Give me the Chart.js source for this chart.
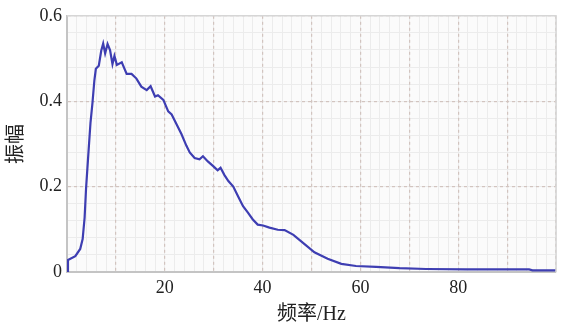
<!DOCTYPE html>
<html>
<head>
<meta charset="utf-8">
<script src="https://cdn.jsdelivr.net/npm/chart.js@4.4.1/dist/chart.umd.min.js"></script>
<style>
  html, body { margin: 0; padding: 0; background: #fff; }
  #wrap { width: 561px; height: 323px; position: relative; }
</style>
</head>
<body>
<div id="wrap"><canvas id="miGrafica"></canvas></div>
<script>
// frecuencia (Hz) y amplitud
const freq = [0, 0.2, 1.7, 2.7, 3.2, 3.6, 3.9, 4.3, 4.8, 5.2, 5.6, 5.9, 6.5, 7.0, 7.4, 7.8, 8.3, 8.8, 9.3, 9.7,
  10.2, 11.2, 12.2, 13.2, 14.2, 15.2, 16.3, 17.1, 18.0, 18.6, 19.7, 20.7, 21.4, 22.4, 23.4, 24.4, 25.1,
  26.1, 27.1, 27.8, 28.8, 29.9, 30.8, 31.4, 32.2, 33.0, 34.0, 35.0, 36.0, 37.0, 38.0, 39.0, 40.1, 41.4,
  43.1, 44.5, 46.3, 48.7, 50.6, 53.3, 56.1, 59.1, 63.2, 68.0, 73.4, 81.6, 94.5, 95.2, 100];
const amp = [0, 0.028, 0.037, 0.054, 0.077, 0.127, 0.196, 0.265, 0.349, 0.395, 0.449, 0.476, 0.483, 0.518, 0.535, 0.512, 0.534, 0.52, 0.487, 0.506,
  0.485, 0.491, 0.464, 0.464, 0.453, 0.434, 0.426, 0.435, 0.411, 0.414, 0.403, 0.376, 0.369, 0.346, 0.323, 0.296, 0.28,
  0.267, 0.264, 0.271, 0.259, 0.248, 0.238, 0.244, 0.227, 0.213, 0.2, 0.177, 0.154, 0.139, 0.123, 0.111, 0.109, 0.104,
  0.099, 0.098, 0.087, 0.064, 0.046, 0.031, 0.019, 0.014, 0.012, 0.009, 0.007, 0.006, 0.006, 0.004, 0.004];
const xTicks = [20, 40, 60, 80];
const yTicks = [0, 0.2, 0.4, 0.6];

const puntos = freq.map((f, i) => ({ x: f, y: amp[i] }));

const fondo = {
  id: "fondo",
  beforeDraw(chart) {
    const { ctx, chartArea: a } = chart;
    ctx.save();
    ctx.fillStyle = "#fbfbfb";
    ctx.fillRect(a.left, a.top, a.right - a.left, a.bottom - a.top);
    ctx.restore();
  },
  afterDatasetsDraw(chart) {
    const { ctx, chartArea: a } = chart;
    ctx.save();
    ctx.strokeStyle = "#d6d6d6";
    ctx.lineWidth = 1.5;
    ctx.beginPath();
    ctx.moveTo(a.left, a.top);
    ctx.lineTo(a.right, a.top);
    ctx.lineTo(a.right, a.bottom);
    ctx.stroke();
    ctx.restore();
  }
};

const serif = "'Liberation Serif', 'DejaVu Serif', serif";
const cjk = "'Liberation Serif', 'Noto Sans CJK SC', serif";

let micanvas = document.getElementById("miGrafica").getContext("2d");
let chart = new Chart(micanvas, {
  type: "line",
  data: {
    datasets: [{
      data: puntos,
      borderColor: "rgb(62, 62, 178)",
      borderWidth: 2.2,
      pointRadius: 0,
      tension: 0,
      fill: false
    }]
  },
  options: {
    responsive: true,
    maintainAspectRatio: false,
    animation: false,
    layout: { padding: { left: 5, right: 4, top: 13, bottom: 0 } },
    plugins: { legend: { display: false }, tooltip: { enabled: false } },
    scales: {
      xMinor: {
        type: "linear", position: "bottom", min: 0, max: 100,
        ticks: { display: false, stepSize: 2 },
        grid: { color: "#ececec", lineWidth: 1, drawTicks: false },
        border: { display: false },
        afterFit(s) { s.height = 0; }
      },
      yMinor: {
        type: "linear", position: "left", min: 0, max: 0.6,
        ticks: { display: false, stepSize: 0.04 },
        grid: { color: "#ececec", lineWidth: 1, drawTicks: false },
        border: { display: false },
        afterFit(s) { s.width = 0; }
      },
      x: {
        type: "linear", min: 0, max: 100,
        ticks: {
          stepSize: 10, autoSkip: false, maxRotation: 0, padding: 5,
          color: "#222", font: { family: serif, size: 18 },
          callback: (v) => xTicks.includes(v) ? String(v) : ""
        },
        grid: { color: "#d2c4bf", lineWidth: 1.2, drawTicks: false },
        border: { display: true, color: "#c4c4c4", width: 2, dash: [3, 3] },
        title: {
          display: true, text: "频率/Hz", color: "#222",
          font: { family: cjk, size: 20 }, padding: { top: 0, bottom: -4 }
        },
        afterFit(s) { s.height = 51; }
      },
      y: {
        type: "linear", min: 0, max: 0.6,
        ticks: {
          stepSize: 0.2, color: "#222", padding: 5,
          font: { family: serif, size: 18 },
          callback: (v) => {
            const t = yTicks.find(k => Math.abs(k - v) < 1e-6);
            if (t === undefined) return "";
            return t === 0 ? "0" : t.toFixed(1);
          }
        },
        grid: { color: "#d2c4bf", lineWidth: 1.2, drawTicks: false },
        border: { display: true, color: "#c4c4c4", width: 2, dash: [3, 3] },
        title: {
          display: true, text: "振幅", color: "#222",
          font: { family: cjk, size: 20 }, padding: { top: 0, bottom: 4 }
        },
        afterFit(s) { s.width = 62; }
      }
    }
  },
  plugins: [fondo]
});
</script>
</body>
</html>
